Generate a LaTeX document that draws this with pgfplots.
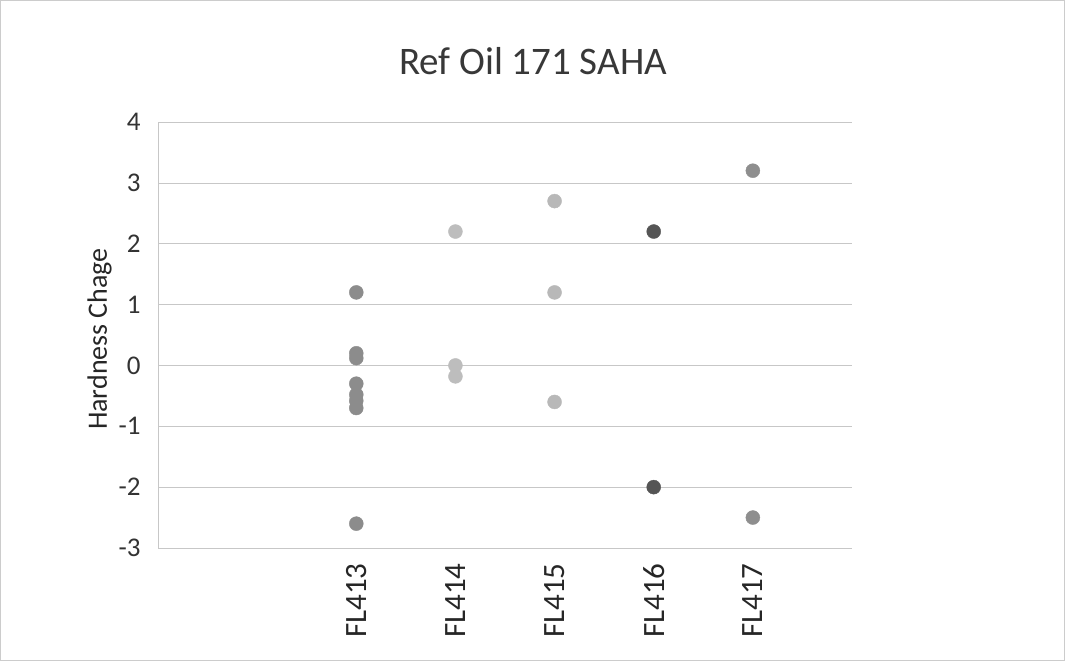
\documentclass[border=0pt]{standalone}
\usepackage{pgfplots}
\pgfplotsset{compat=1.18}
\usepackage{fontspec}
\setmainfont{Carlito}
\definecolor{cA}{HTML}{8C8C8C}
\definecolor{cB}{HTML}{BDBDBD}
\definecolor{cC}{HTML}{B8B8B8}
\definecolor{cD}{HTML}{555555}
\definecolor{cE}{HTML}{8E8E8E}
\begin{document}
\begin{tikzpicture}[x=1pt,y=1pt]
\path[use as bounding box] (0,0) rectangle (1065,661);
\draw[black!20, line width=0.6pt] (0.5,0.5) rectangle (1064.5,660.5);
\node[font=\fontsize{39}{44}\selectfont, text=black!78] at (533,600) {Ref Oil 171 SAHA};
\begin{axis}[
  scale only axis, width=694pt, height=426pt,
  at={(158pt,113pt)}, anchor=south west,
  xmin=-1, xmax=6, ymin=-3, ymax=4,
  axis x line*=bottom, axis y line*=left,
  xtick={1,2,3,4,5},
  xticklabels={FL413,FL414,FL415,FL416,FL417},
  ytick={-3,-2,-1,0,1,2,3,4},
  major tick length=0pt,
  axis line style={draw=black!22, -},
  ymajorgrids, grid style={black!22, line width=0.6pt},
  yticklabel style={font=\fontsize{27}{30}\selectfont, text=black!80, xshift=-14pt},
  xticklabel style={font=\fontsize{31}{34}\selectfont, text=black!85, rotate=90, anchor=east, xshift=-12pt},
  /pgf/number format/assume math mode=true,
  every axis y label/.style={at={(ticklabel cs:0.5)}, rotate=90, anchor=near ticklabel},
  ylabel style={font=\fontsize{28}{32}\selectfont, text=black!85, xshift=-4pt},
  ylabel={Hardness Chage},
  clip=false,
]
\addplot[only marks, mark=*, mark size=7pt, mark options={draw=cA, fill=cA}] coordinates {
(1,1.2) (1,0.2) (1,0.12) (1,-0.3) (1,-0.48) (1,-0.58) (1,-0.7) (1,-2.6)};
\addplot[only marks, mark=*, mark size=7pt, mark options={draw=cB, fill=cB}] coordinates {
(2,2.2) (2,0.0) (2,-0.18)};
\addplot[only marks, mark=*, mark size=7pt, mark options={draw=cC, fill=cC}] coordinates {
(3,2.7) (3,1.2) (3,-0.6)};
\addplot[only marks, mark=*, mark size=7pt, mark options={draw=cD, fill=cD}] coordinates {
(4,2.2) (4,-2.0)};
\addplot[only marks, mark=*, mark size=7pt, mark options={draw=cE, fill=cE}] coordinates {
(5,3.2) (5,-2.5)};
\end{axis}
\end{tikzpicture}
\end{document}
